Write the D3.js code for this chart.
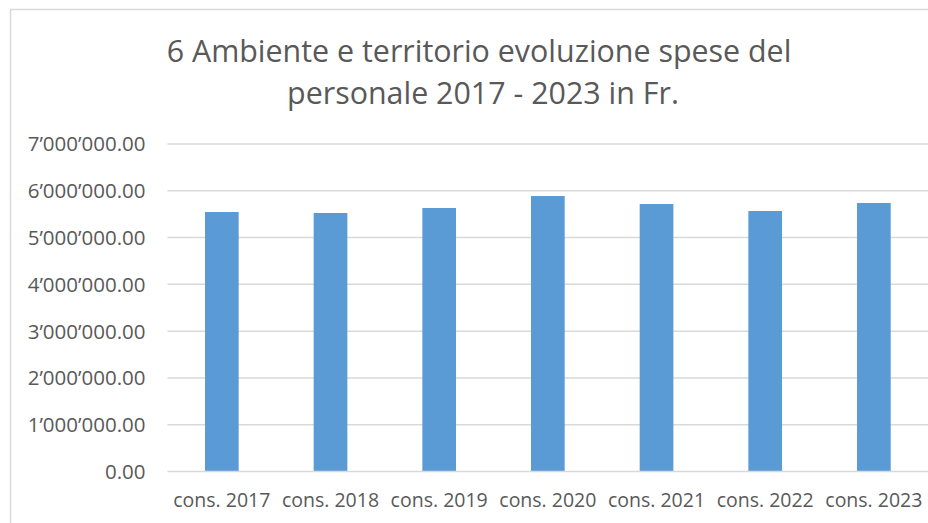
<!DOCTYPE html>
<html>
<head>
<meta charset="utf-8">
<script src="https://cdn.jsdelivr.net/npm/d3@7"></script>
<style>
  html, body { margin: 0; padding: 0; background: #ffffff; }
  svg { display: block; }
  text { font-family: "Open Sans", "Noto Sans", sans-serif; fill: #595959; }
</style>
</head>
<body>
<svg id="chart" width="928" height="523"></svg>
<script>
const categories = ["cons. 2017", "cons. 2018", "cons. 2019", "cons. 2020", "cons. 2021", "cons. 2022", "cons. 2023"];
const values = [5546000, 5525000, 5632000, 5888000, 5717000, 5568000, 5739000];
const tickValues = [0, 1000000, 2000000, 3000000, 4000000, 5000000, 6000000, 7000000];
const titleLines = ["6 Ambiente e territorio evoluzione spese del", "personale 2017 - 2023 in Fr."];

const W = 928, H = 523;
const plot = { left: 167.5, right: 928.2, top: 144, bottom: 471.5 };

const svg = d3.select("#chart");
svg.append("rect").attr("width", W).attr("height", H).attr("fill", "#ffffff");

// outer chart frame (cropped on right / bottom)
svg.append("path")
  .attr("d", `M10.5,${H + 5} L10.5,9.5 L${W + 5},9.5`)
  .attr("fill", "none").attr("stroke", "#d9d9d9").attr("stroke-width", 1.5);

const x = d3.scaleBand().domain(categories).range([plot.left, plot.right]).paddingInner(0.69).paddingOuter(0.345);
const y = d3.scaleLinear().domain([0, 7000000]).range([plot.bottom, plot.top]);

const fmt = v => d3.format(",.2f")(v).replace(/,/g, "\u2019");

// gridlines
svg.append("g").selectAll("line").data(tickValues.filter(d => d > 0)).join("line")
  .attr("x1", plot.left).attr("x2", W)
  .attr("y1", d => y(d)).attr("y2", d => y(d))
  .attr("stroke", "#d9d9d9").attr("stroke-width", 1.5);

// y tick labels via axis
const yAxis = svg.append("g").attr("transform", `translate(${plot.left},0)`)
  .call(d3.axisLeft(y).tickValues(tickValues).tickFormat(fmt).tickSize(0).tickPadding(22));
yAxis.select(".domain").remove();
yAxis.selectAll("text").attr("font-size", 20.5).attr("fill", "#595959")
  .attr("font-family", "Open Sans").attr("dy", "0.34em");

// bars
svg.append("g").selectAll("rect").data(values).join("rect")
  .attr("x", (d, i) => x(categories[i]))
  .attr("width", x.bandwidth())
  .attr("y", d => y(d))
  .attr("height", d => y(0) - y(d))
  .attr("fill", "#5b9bd5");

// x axis
const xAxis = svg.append("g").attr("transform", `translate(0,${plot.bottom})`)
  .call(d3.axisBottom(x).tickSize(0).tickPadding(22));
xAxis.select(".domain").attr("stroke", "#d9d9d9").attr("stroke-width", 1.5)
  .attr("d", `M${plot.left},0H${W}`);
xAxis.selectAll("text").attr("font-size", 19.5).attr("fill", "#595959")
  .attr("font-family", "Open Sans").attr("dy", "0.71em");

// title
const title = svg.append("text").attr("text-anchor", "middle").attr("font-size", 30.4).attr("fill", "#595959");
title.selectAll("tspan").data(titleLines).join("tspan")
  .attr("x", (d, i) => i === 0 ? 479 : 483).attr("y", (d, i) => 62 + i * 42)
  .text(d => d);
</script>
</body>
</html>
